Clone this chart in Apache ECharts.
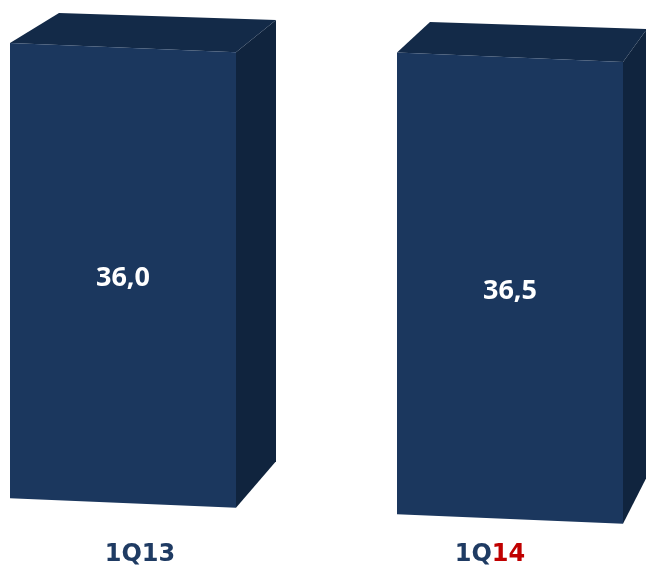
<!DOCTYPE html>
<html>
<head>
<meta charset="utf-8">
<script src="https://cdn.jsdelivr.net/npm/echarts@6/dist/echarts.min.js"></script>
<style>html,body{margin:0;padding:0;background:#fff;}#chart{width:646px;height:572px;}</style>
</head>
<body>
<div id="chart"></div>
<script>
const categories = ['1Q13', '1Q14'];
const values = [36.0, 36.5];
const valueLabels = ['36,0', '36,5'];

const chart = echarts.init(document.getElementById('chart'));

const FRONT = '#1b375e', TOP = '#132a48', SIDE = '#10243e';
const HALF = 113, SLOPE = 0.0413;
const DEPTHS = [40, 24];

function renderItem(params, api) {
  const idx = params.dataIndex;
  const x0 = api.coord([0, 0])[0];
  const x = api.coord([idx, 0])[0];
  const base = api.coord([idx, 0])[1];
  const top = api.coord([idx, api.value(1)])[1];
  const dx = DEPTHS[idx];
  const sh = p => [p[0], p[1] + SLOPE * (p[0] - x0)];
  const FL = [x - HALF, top], FR = [x + HALF, top], BR = [x + HALF, base], BL = [x - HALF, base];
  const front = [FL, FR, BR, BL].map(sh);
  const topFace = [FL, FR, [FR[0] + dx, FR[1] - 34], [FL[0] + dx + 9, FL[1] - 32]].map(sh);
  const side = [FR, [FR[0] + dx, FR[1] - 34], [BR[0] + dx, BR[1] - 48], BR].map(sh);
  const c = sh([x, (top + base) / 2 + 3]);
  return {
    type: 'group',
    children: [
      { type: 'polygon', shape: { points: side }, style: { fill: SIDE } },
      { type: 'polygon', shape: { points: topFace }, style: { fill: TOP } },
      { type: 'polygon', shape: { points: front }, style: { fill: FRONT } },
      { type: 'text', x: c[0], y: c[1], style: {
          text: valueLabels[idx], fill: '#ffffff', align: 'center', verticalAlign: 'middle',
          font: 'bold 27px "Open Sans", "Liberation Sans", sans-serif' } }
    ]
  };
}

chart.setOption({
  animation: false,
  backgroundColor: '#ffffff',
  grid: { left: 123, right: 136, top: 22.3, bottom: 69, containLabel: false },
  xAxis: {
    type: 'category', data: categories, boundaryGap: false,
    axisLine: { show: false }, axisTick: { show: false }, splitLine: { show: false },
    axisLabel: {
      margin: 40,
      formatter: (v, i) => i === 0 ? '{a|1Q13}' : '{b|1Q}{c|14}',
      rich: {
        a: { fontFamily: 'DejaVu Sans', fontWeight: 'bold', fontSize: 24, color: '#1f3b63', padding: [0, 0, 0, 34] },
        b: { fontFamily: 'DejaVu Sans', fontWeight: 'bold', fontSize: 24, color: '#1f3b63' },
        c: { fontFamily: 'DejaVu Sans', fontWeight: 'bold', fontSize: 24, color: '#c00000', padding: [0, 40, 0, 0] }
      }
    }
  },
  yAxis: { type: 'value', min: 0, max: 38, show: false, splitLine: { show: false } },
  series: [{
    type: 'custom',
    renderItem: renderItem,
    clip: false,
    data: values.map((v, i) => [i, v])
  }]
});
</script>
</body>
</html>
